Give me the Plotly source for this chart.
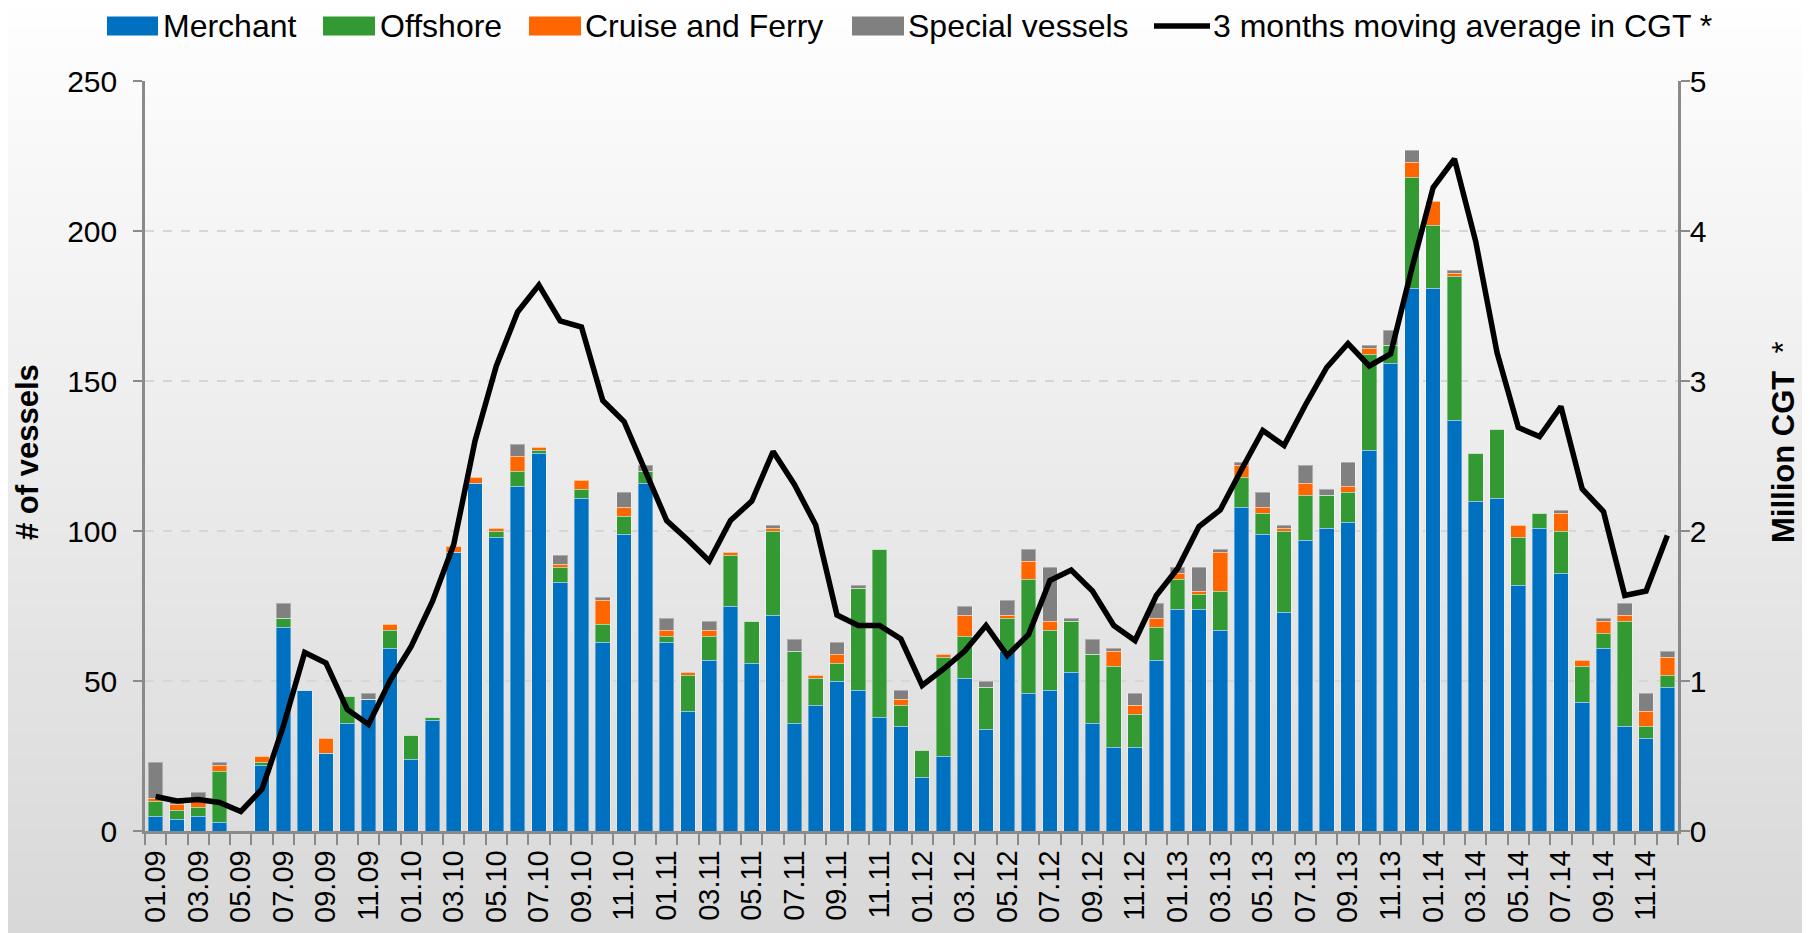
import plotly.graph_objects as go

# ---------------- data ----------------
months = [f"{m:02d}.{y:02d}" for y in range(9, 15) for m in range(1, 13)]

merchant = [5, 4, 5, 3, 0, 22, 68, 47, 26, 36, 44, 61,
            24, 37, 93, 116, 98, 115, 126, 83, 111, 63, 99, 116,
            63, 40, 57, 75, 56, 72, 36, 42, 50, 47, 38, 35,
            18, 25, 51, 34, 60, 46, 47, 53, 36, 28, 28, 57,
            74, 74, 67, 108, 99, 73, 97, 101, 103, 127, 156, 181,
            181, 137, 110, 111, 82, 101, 86, 43, 61, 35, 31, 48]

offshore = [5, 3, 3, 17, 0, 1, 3, 0, 0, 9, 0, 6,
            8, 1, 0, 0, 2, 5, 1, 5, 3, 6, 6, 4,
            2, 12, 8, 17, 14, 28, 24, 9, 6, 34, 56, 7,
            9, 33, 14, 14, 11, 38, 20, 17, 23, 27, 11, 11,
            10, 5, 13, 10, 7, 27, 15, 11, 10, 32, 6, 37,
            21, 48, 16, 23, 16, 5, 14, 12, 5, 35, 4, 4]

cruise = [1, 2, 2, 2, 0, 2, 0, 0, 5, 0, 0, 2,
          0, 0, 2, 2, 1, 5, 1, 1, 3, 8, 3, 0,
          2, 1, 2, 1, 0, 1, 0, 1, 3, 0, 0, 2,
          0, 1, 7, 0, 1, 6, 3, 0, 0, 5, 3, 3,
          2, 1, 13, 4, 2, 1, 4, 0, 2, 2, 0, 5,
          8, 1, 0, 0, 4, 0, 6, 2, 4, 2, 5, 6]

special = [12, 1, 3, 1, 0, 0, 5, 0, 0, 0, 2, 0,
           0, 0, 0, 0, 0, 4, 0, 3, 0, 1, 5, 2,
           4, 0, 3, 0, 0, 1, 4, 0, 4, 1, 0, 3,
           0, 0, 3, 2, 5, 4, 18, 1, 5, 1, 4, 5,
           2, 8, 1, 1, 5, 1, 6, 2, 8, 1, 5, 4,
           0, 1, 0, 0, 0, 0, 1, 0, 1, 4, 6, 2]

cgt_ma = [0.23, 0.20, 0.21, 0.19, 0.13, 0.28, 0.70, 1.19, 1.12, 0.81, 0.71, 1.00,
          1.23, 1.53, 1.91, 2.60, 3.10, 3.46, 3.64, 3.40, 3.36, 2.87, 2.73, 2.40,
          2.07, 1.94, 1.80, 2.07, 2.20, 2.53, 2.31, 2.04, 1.44, 1.37, 1.37, 1.28,
          0.97, 1.08, 1.20, 1.37, 1.17, 1.31, 1.67, 1.74, 1.60, 1.37, 1.27, 1.57,
          1.75, 2.03, 2.14, 2.41, 2.67, 2.57, 2.84, 3.09, 3.25, 3.10, 3.18, 3.75,
          4.29, 4.48, 3.93, 3.19, 2.69, 2.63, 2.83, 2.28, 2.13, 1.57, 1.60, 1.97]

tick_labels = [m if i % 2 == 0 else "" for i, m in enumerate(months)]

series_names = ["Merchant", "Offshore", "Cruise and Ferry", "Special vessels"]
line_name = "3 months moving average in CGT *"

# ---------------- styling ----------------
colors = ["#0070C0", "#339933", "#FF6600", "#808080"]
FONT = "Liberation Sans, Arial, sans-serif"
AXIS_COLOR = "#8a8a8a"
OFF = 8  # page body margin offset
W, H = 1810, 933
PLOT_L, PLOT_R, PLOT_T, PLOT_B = 145, 1678, 81, 831  # target page pixels
L = PLOT_L - OFF
T = PLOT_T - OFF
PW = PLOT_R - PLOT_L
PH = PLOT_B - PLOT_T
R = W - L - PW
B = H - T - PH


def px_to_paper_x(px):
    return (px - PLOT_L) / PW


def px_to_paper_y(py):
    return (PLOT_B - py) / PH


fig = go.Figure()

for name, vals, col in zip(series_names, [merchant, offshore, cruise, special], colors):
    fig.add_trace(go.Bar(
        x=months, y=vals, name=name, marker_color=col,
        marker_line=dict(width=1, color="rgba(255,255,255,0.35)"),
        showlegend=False,
    ))

fig.add_trace(go.Scatter(
    x=months, y=cgt_ma, name=line_name, mode="lines", yaxis="y2",
    line=dict(color="black", width=5.5), showlegend=False,
))

# gradient background built from horizontal bands
shapes = []
nb = 80
top_c, bot_c = 255, 216
for i in range(nb):
    y0 = -OFF + (H + OFF) * i / nb
    y1 = -OFF + (H + OFF) * (i + 1) / nb + 1
    c = round(top_c + (bot_c - top_c) * (i + 0.5) / nb)
    shapes.append(dict(type="rect", xref="paper", yref="paper", layer="below",
                       x0=px_to_paper_x(-OFF), x1=px_to_paper_x(W + OFF),
                       y0=px_to_paper_y(y1), y1=px_to_paper_y(y0),
                       line=dict(width=0), fillcolor=f"rgb({c},{c},{c})"))

# custom legend
LEG_Y = 26
annotations = []
leg_rects = [(107, 158, 161), (323, 375, 378), (529, 581, 583), (852, 904, 906)]
for (x0, x1, tx), col, name in zip(leg_rects, colors, series_names):
    shapes.append(dict(type="rect", xref="paper", yref="paper",
                       x0=px_to_paper_x(x0), x1=px_to_paper_x(x1),
                       y0=px_to_paper_y(LEG_Y + 9.5), y1=px_to_paper_y(LEG_Y - 9.5),
                       line=dict(width=0), fillcolor=col))
    annotations.append(dict(xref="paper", yref="paper", x=px_to_paper_x(tx), y=px_to_paper_y(LEG_Y),
                            xanchor="left", yanchor="middle", showarrow=False, text=name,
                            font=dict(size=32, family=FONT, color="black")))
shapes.append(dict(type="line", xref="paper", yref="paper",
                   x0=px_to_paper_x(1154), x1=px_to_paper_x(1210),
                   y0=px_to_paper_y(LEG_Y), y1=px_to_paper_y(LEG_Y),
                   line=dict(width=5.5, color="black")))
annotations.append(dict(xref="paper", yref="paper", x=px_to_paper_x(1211), y=px_to_paper_y(LEG_Y),
                        xanchor="left", yanchor="middle", showarrow=False, text=line_name,
                        font=dict(size=32, family=FONT, color="black")))

# axis titles
annotations.append(dict(xref="paper", yref="paper", x=px_to_paper_x(27), y=px_to_paper_y(452),
                        xanchor="center", yanchor="middle", showarrow=False, textangle=-90,
                        text="<b># of vessels</b>", font=dict(size=31, family=FONT, color="black")))
annotations.append(dict(xref="paper", yref="paper", x=px_to_paper_x(1784), y=px_to_paper_y(442),
                        xanchor="center", yanchor="middle", showarrow=False, textangle=-90,
                        text="<b>Million CGT </b> *", font=dict(size=31, family=FONT, color="black")))

fig.update_layout(
    width=W, height=H,
    margin=dict(l=L, r=R, t=T, b=B, autoexpand=False),
    barmode="stack", bargap=0.31,
    paper_bgcolor="#ffffff", plot_bgcolor="rgba(0,0,0,0)",
    font=dict(family=FONT, color="black", size=26),
    shapes=shapes, annotations=annotations,
    xaxis=dict(
        type="category", tickmode="array", tickvals=months, ticktext=tick_labels,
        tickangle=-90, tickson="boundaries", ticks="outside", ticklen=11,
        tickwidth=2, tickcolor=AXIS_COLOR, showline=True, linecolor=AXIS_COLOR,
        linewidth=2.5, showgrid=False, tickfont=dict(size=29, family=FONT),
        range=[-0.5, len(months) - 0.5], ticklabelstandoff=5, automargin=False,
    ),
    yaxis=dict(
        range=[0, 250], tickvals=[0, 50, 100, 150, 200, 250], ticks="outside",
        ticklen=9, tickwidth=2, tickcolor=AXIS_COLOR, showline=True,
        linecolor=AXIS_COLOR, linewidth=2.5, showgrid=True, gridcolor="#d6d6d6",
        griddash="dash", gridwidth=1.5, zeroline=False,
        tickfont=dict(size=30, family=FONT), ticklabelstandoff=10, automargin=False,
    ),
    yaxis2=dict(
        range=[0, 5], tickvals=[0, 1, 2, 3, 4, 5], overlaying="y", side="right",
        ticks="outside", ticklen=9, tickwidth=2, tickcolor=AXIS_COLOR,
        showline=True, linecolor=AXIS_COLOR, linewidth=2.5, showgrid=False,
        zeroline=False, tickfont=dict(size=30, family=FONT), ticklabelstandoff=-6,
        automargin=False,
    ),
)

fig.write_html("out.html")
